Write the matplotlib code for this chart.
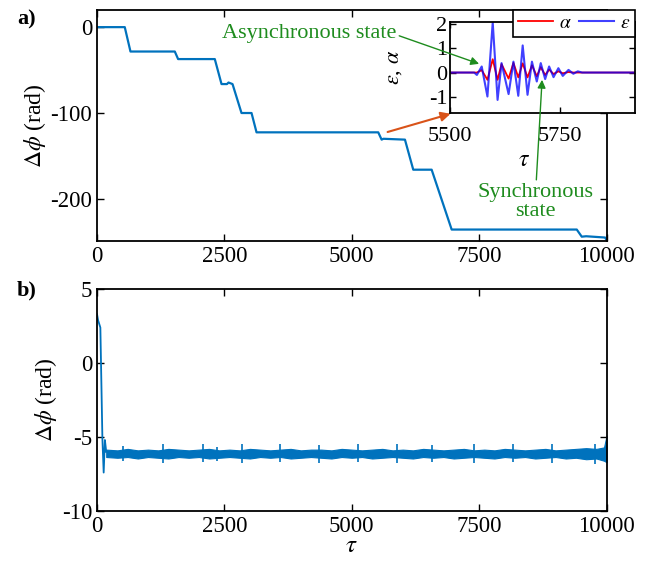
import numpy as np
import matplotlib.pyplot as plt

plt.rcParams['font.family'] = 'Liberation Serif'
plt.rcParams['mathtext.fontset'] = 'stix'
plt.rcParams['axes.unicode_minus'] = False
plt.rcParams['xtick.direction'] = 'in'
plt.rcParams['ytick.direction'] = 'in'

# panel a) phase difference staircase
a_tau = [0, 544, 656, 1526, 1591, 2311, 2443, 2550, 2580, 2659, 2835, 3032, 3130,
         5519, 5585, 5620, 6043, 6206, 6567, 6960, 9415, 9513, 9600, 9971, 10000]
a_phi = [0, 0, -28.4, -28.4, -37.2, -37.2, -66.3, -66.3, -64.5, -66.3, -100, -100, -122.5,
         -122.5, -131, -130, -131, -166, -166, -235.7, -235.7, -244, -243.5, -245, -248]

# inset: coupling variables around tau = 5500..5920
in_tau = [5500, 5555, 5561, 5572, 5585, 5597, 5608, 5617, 5633, 5644, 5655, 5665, 5676,
          5686, 5697, 5706, 5716, 5725, 5735, 5746, 5756, 5769, 5780, 5790, 5800, 5920]
eps = [0, 0, -0.1, 0.25, -0.99, 2.07, -1.13, 0.39, -0.89, 0.45, -0.96, 1.12, -0.92,
       0.45, -0.37, 0.39, -0.27, 0.25, -0.19, 0.18, -0.14, 0.11, -0.05, 0.05, 0, 0]
alp = [0, 0, 0.0, 0.1, -0.3, 0.55, -0.3, 0.35, -0.25, 0.4, -0.2, 0.38, -0.2,
       0.3, -0.15, 0.22, -0.1, 0.12, -0.06, 0.05, -0.03, 0.02, 0, 0, 0, 0]

# panel b) initial transient then locked band
b_tau = [0, 20, 65, 105, 130, 154, 180]
b_phi = [3.3, 2.9, 2.4, -5.1, -7.4, -5.2, -6.0]
band_tau = [180, 400, 600, 800, 1000, 1200, 1400, 1600, 1800, 2000, 2200, 2400, 2600,
             2800, 3000, 3200, 3400, 3600, 3800, 4000, 4200, 4400, 4600, 4800, 5000,
             5200, 5400, 5600, 5800, 6000, 6200, 6400, 6600, 6800, 7000, 7200, 7400,
             7600, 7800, 8000, 8200, 8400, 8600, 8800, 9000, 9200, 9400, 9600, 9800, 9950, 10000]
band_hi = [-5.85, -5.9, -5.8, -5.9, -5.85, -5.9, -5.8, -5.85, -5.9, -5.85, -5.8, -5.9,
           -5.85, -5.9, -5.8, -5.85, -5.9, -5.85, -5.8, -5.9, -5.85, -5.85, -5.9, -5.8,
           -5.85, -5.9, -5.85, -5.8, -5.9, -5.85, -5.9, -5.8, -5.85, -5.9, -5.85, -5.8,
           -5.9, -5.85, -5.9, -5.8, -5.85, -5.9, -5.85, -5.8, -5.9, -5.85, -5.8, -5.75,
           -5.8, -5.7, -4.9]
band_lo = [-6.35, -6.4, -6.35, -6.45, -6.35, -6.4, -6.45, -6.35, -6.4, -6.35, -6.45,
           -6.4, -6.35, -6.4, -6.45, -6.35, -6.4, -6.35, -6.45, -6.4, -6.35, -6.4, -6.45,
           -6.35, -6.4, -6.35, -6.45, -6.4, -6.35, -6.4, -6.45, -6.35, -6.4, -6.35, -6.45,
           -6.4, -6.35, -6.4, -6.45, -6.35, -6.4, -6.35, -6.45, -6.4, -6.35, -6.45, -6.4,
           -6.5, -6.45, -6.6, -6.7]
spike_tau = [510, 1296, 2082, 2345, 2836, 3600, 4360, 5125, 5890, 6580, 7390, 8160, 8920, 9770]
spike_hi = [-5.6, -5.5, -5.45, -5.7, -5.5, -5.45, -5.55, -5.5, -5.5, -5.55, -5.45, -5.5, -5.5, -5.45]
spike_lo = [-6.6, -6.75, -6.7, -6.6, -6.75, -6.7, -6.75, -6.7, -6.75, -6.7, -6.75, -6.7, -6.75, -6.8]

blue = '#0072BD'
green = '#1E8C1E'

fig = plt.figure(figsize=(6.47, 5.69), dpi=100)
ax1 = fig.add_axes([0.150, 0.5765, 0.7875, 0.406])
ax2 = fig.add_axes([0.150, 0.1019, 0.7875, 0.390])
axi = fig.add_axes([0.6955, 0.8014, 0.286, 0.1605])

ax1.plot(a_tau, a_phi, color=blue, lw=1.6)
ax1.set_xlim(0, 10000)
ax1.set_ylim(-249, 20)
ax1.set_xticks([0, 2500, 5000, 7500, 10000])
ax1.set_yticks([-200, -100, 0])
ax1.set_ylabel(r'$\Delta\phi$ (rad)', fontsize=17, labelpad=2)

ax2.plot(b_tau, b_phi, color=blue, lw=1.3)
ax2.fill_between(band_tau, band_lo, band_hi, color=blue, lw=0.8)
ax2.vlines(spike_tau, spike_lo, spike_hi, color=blue, lw=1.2)
ax2.set_xlim(0, 10000)
ax2.set_ylim(-10, 5)
ax2.set_xticks([0, 2500, 5000, 7500, 10000])
ax2.set_yticks([-10, -5, 0, 5])
ax2.set_ylabel(r'$\Delta\phi$ (rad)', fontsize=17, labelpad=2)
ax2.set_xlabel(r'$\tau$', fontsize=18, labelpad=-1)

for ax in (ax1, ax2, axi):
    ax.tick_params(labelsize=16.5, top=True, right=True, length=5, width=1)
    for s in ax.spines.values():
        s.set_linewidth(1.3)
axi.tick_params(labelsize=16, length=4)

axi.plot(in_tau, alp, color='red', lw=1.3, label=r'$\alpha$')
axi.plot(in_tau, eps, color='blue', lw=1.5, alpha=0.75, label=r'$\epsilon$')
axi.set_xlim(5500, 5920)
axi.set_ylim(-1.67, 2.1)
axi.set_xticks([5500, 5750])
axi.set_yticks([-1, 0, 1, 2])
axi.tick_params(axis='x', pad=10)
axi.tick_params(axis='y', pad=2)
axi.set_xlabel(r'$\tau$', fontsize=17)
axi.xaxis.set_label_coords(0.4, -0.4)
axi.set_ylabel(r'$\epsilon$, $\alpha$', fontsize=16)
axi.yaxis.set_label_coords(-0.25, 0.5)
leg = axi.legend(loc='upper right', bbox_to_anchor=(1.0, 1.13), ncol=2, fontsize=14,
                 frameon=True, fancybox=False, framealpha=1, edgecolor='black',
                 handlelength=1.8, columnspacing=0.4, handletextpad=0.3, borderpad=0.25,
                 borderaxespad=0)
leg.get_frame().set_linewidth(1.2)

# arrow from main curve to the inset
ax1.annotate('', xy=(6990, -100), xytext=(5650, -123),
             arrowprops=dict(arrowstyle='-|>', color='#D95319', lw=1.5, mutation_scale=14))

# state annotations pointing into the inset
axi.annotate('Asynchronous state', xy=(5566, 0.36), xycoords='data',
             xytext=(0.478, 0.942), textcoords='figure fraction', ha='center', va='center',
             color=green, fontsize=16,
             arrowprops=dict(arrowstyle='-|>', color=green, lw=1.0, mutation_scale=12,
                             shrinkA=0, shrinkB=0, relpos=(0.97, 0.5)))
axi.annotate('Synchronous\nstate', xy=(5709, -0.3), xycoords='data',
             xytext=(0.827, 0.645), textcoords='figure fraction', ha='center', va='center',
             color=green, fontsize=16, linespacing=1.05,
             arrowprops=dict(arrowstyle='-|>', color=green, lw=1.0, mutation_scale=12,
                             shrinkA=0, shrinkB=0))

fig.text(0.026, 0.965, 'a)', fontsize=16, fontweight='bold', va='center')
fig.text(0.026, 0.489, 'b)', fontsize=16, fontweight='bold', va='center')

fig.savefig('out.png', dpi=100)
